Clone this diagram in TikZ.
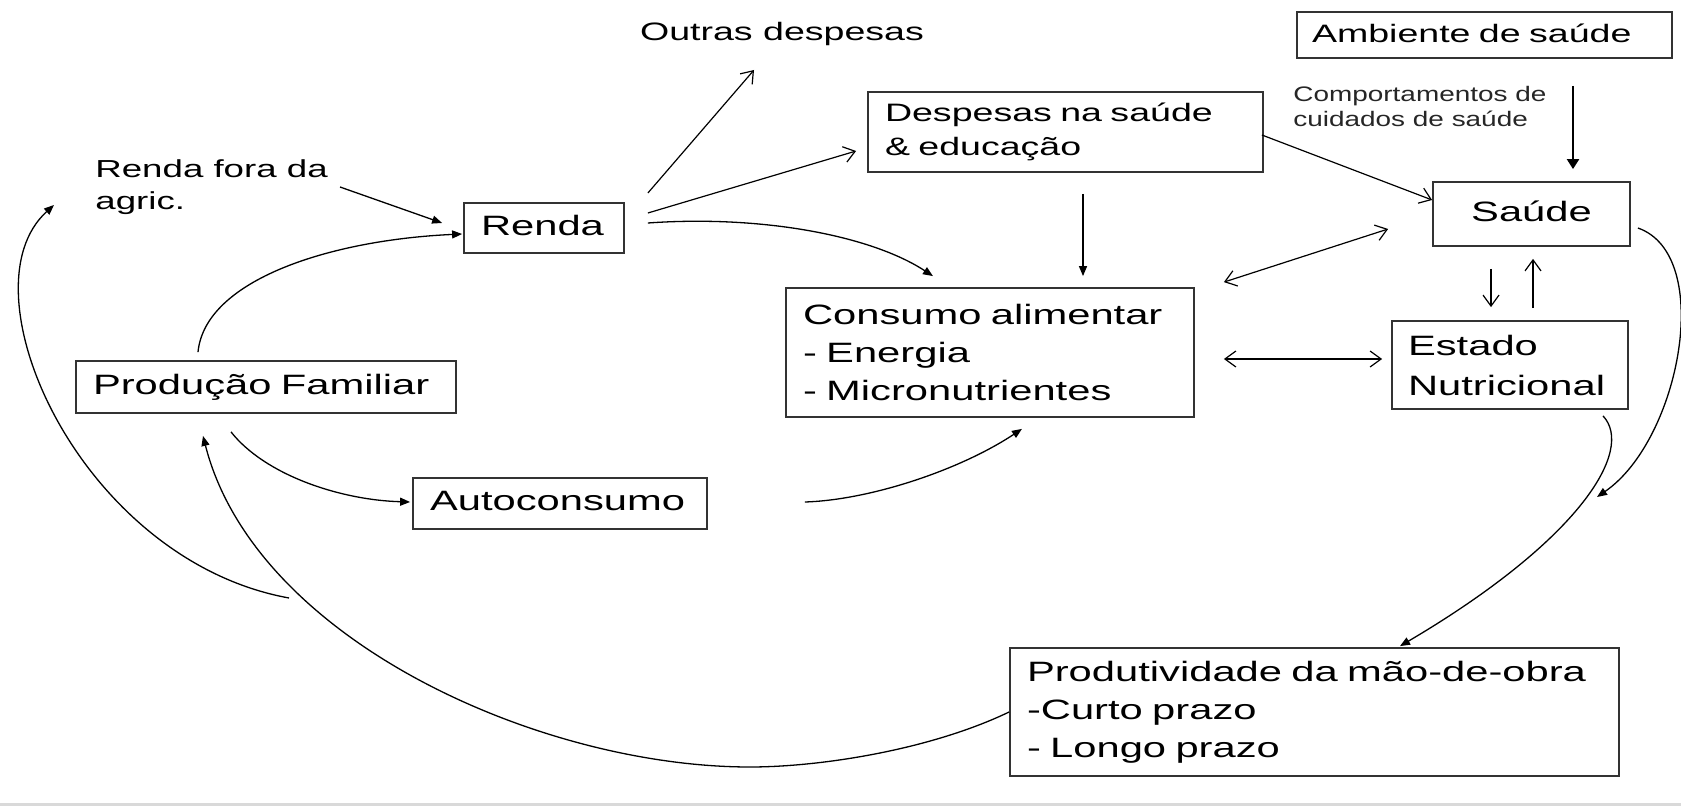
\documentclass[tikz,border=0pt]{standalone}
\usepackage{fontspec}
\setmainfont{Liberation Sans}[FakeStretch=1.49]
\newfontfamily\smallfnt{Liberation Sans}[FakeStretch=1.33]
\usetikzlibrary{arrows.meta,calc}
\hyphenpenalty=10000
\exhyphenpenalty=10000
\begin{document}
\begin{tikzpicture}[x=0.5pt,y=-0.5pt,
  box/.style={draw=black!80,line width=0.9pt,inner xsep=8.5pt,inner ysep=0pt,align=left,text=black},
  bigf/.style={font=\fontsize{14}{19}\selectfont},
  midf/.style={font=\fontsize{12.6}{17}\selectfont},
  one/.style={text height=0.72em,text depth=0pt},
  fa/.style={-{Triangle[length=5pt,width=4pt]},line width=0.65pt},
  oa/.style={-{Straight Barb[length=5.5pt,width=8pt]},line width=0.6pt},
  ob/.style={{Straight Barb[length=5.5pt,width=8pt]}-{Straight Barb[length=5.5pt,width=8pt]},line width=0.6pt}]
\fill[white,use as bounding box] (0,0) rectangle (1681,806);
\fill[black!15] (0,803) rectangle (1681,806);

% boxes
\node[box,bigf,one,text width=63pt,minimum height=25pt] (renda) at (544,228) {Renda};
\node[box,bigf,one,text width=173pt,minimum height=26pt] (prod) at (266,387) {Produção Familiar};
\node[box,bigf,one,text width=130pt,minimum height=25.5pt] (auto) at (560,503.5) {Autoconsumo};
\node[box,midf,text width=180.5pt,minimum height=40pt] (desp) at (1065.5,132) {Despesas na saúde\\\& educação};
\node[box,bigf,text width=187pt,minimum height=64.5pt] (cons) at (990,352.5) {Consumo alimentar\\- Energia\\- Micronutrientes};
\node[box,midf,one,inner xsep=7.5pt,text width=172.5pt,minimum height=23pt] (amb) at (1484.5,35) {Ambiente de saúde};
\node[box,bigf,one,align=center,text width=81.5pt,minimum height=32pt] (saude) at (1531.5,214) {Saúde};
\node[box,font=\fontsize{14}{20}\selectfont,inner xsep=8pt,text width=102pt,minimum height=44pt] (estado) at (1510,365) {Estado\\Nutricional};
\node[box,bigf,text width=287.5pt,minimum height=64pt] (produt) at (1314.5,712) {Produtividade da mão-de-obra\\-Curto prazo\\- Longo prazo};

% free texts
\node[midf,inner sep=0pt] (outras) at (782,34) {Outras despesas};
\node[font=\fontsize{12.3}{16}\selectfont,align=left,anchor=north west,inner sep=0pt] (rendafora) at (95,159) {Renda fora da\\agric.};
\node[font=\smallfnt\fontsize{10.5}{12.5}\selectfont,text=black!85,align=left,anchor=north west,inner sep=0pt] (comport) at (1293,86) {Comportamentos de\\cuidados de saúde};

% connectors
\draw[fa] ($(rendafora.north west)+(245,28)$) -- ($(renda.west)+(-21,-5)$);
\draw[fa] ($(prod.north)+(-68,-8)$) .. controls (205,280) and (330,240) .. ($(renda.west)+(-1,6)$);
\draw[oa] ($(renda.east)+(23,-35)$) -- ($(outras.center)+(-28,36)$);
\draw[oa] ($(renda.east)+(23,-15)$) -- ($(desp.west)+(-11,19)$);
\draw[fa] ($(renda.east)+(23,-5)$) .. controls (760,215) and (870,235) .. ($(cons.north)+(-57,-11)$);
\draw[fa] ($(desp.south)+(17.5,21)$) -- ($(cons.north)+(93,-11)$);
\draw[oa] ($(desp.east)+(-2,3)$) -- ($(saude.west)+(0,-14)$);
\draw[-{Triangle[length=5pt,width=6pt]},line width=1.1pt] ($(amb.south)+(88.5,27)$) -- ($(saude.north)+(41.5,-12)$);
\draw[ob] ($(cons.north east)+(29,-5)$) -- ($(saude.west)+(-44,15)$);
\draw[ob] ($(cons.east)+(29,6.5)$) -- ($(estado.west)+(-9,-6)$);
\draw[oa] ($(saude.south)+(-40.5,22)$) -- ($(estado.north)+(-19,-13)$);
\draw[oa] ($(estado.north)+(23,-12)$) -- ($(saude.south)+(1.5,12)$);
\draw[fa] ($(estado.south)+(93,6)$) .. controls (1635,450) and (1580,540) .. ($(produt.north)+(85.5,-1)$);
\coordinate (meet) at (1597,497);
\draw[fa] ($(saude.east)+(7,14)$) .. controls (1715,255) and (1680,440) .. (meet);
\draw[fa] ($(prod.south)+(-35,18)$) .. controls (265,475) and (340,500) .. ($(auto.west)+(-2,-1.5)$);
\draw[fa] ($(auto.east)+(97,-1.5)$) .. controls (870,500) and (960,470) .. ($(cons.south)+(32,11)$);
\coordinate (bottom) at (750,767);
\draw[fa] (produt.west) .. controls (930,750) and (820,767) .. (bottom) .. controls (540,767) and (255,640) .. ($(prod.south)+(-63,22)$);
\coordinate (junc) at (289,598);
\draw[fa] (junc) .. controls (80,560) and (-40,290) .. ($(rendafora.north west)+(-41,46)$);
\end{tikzpicture}
\end{document}
